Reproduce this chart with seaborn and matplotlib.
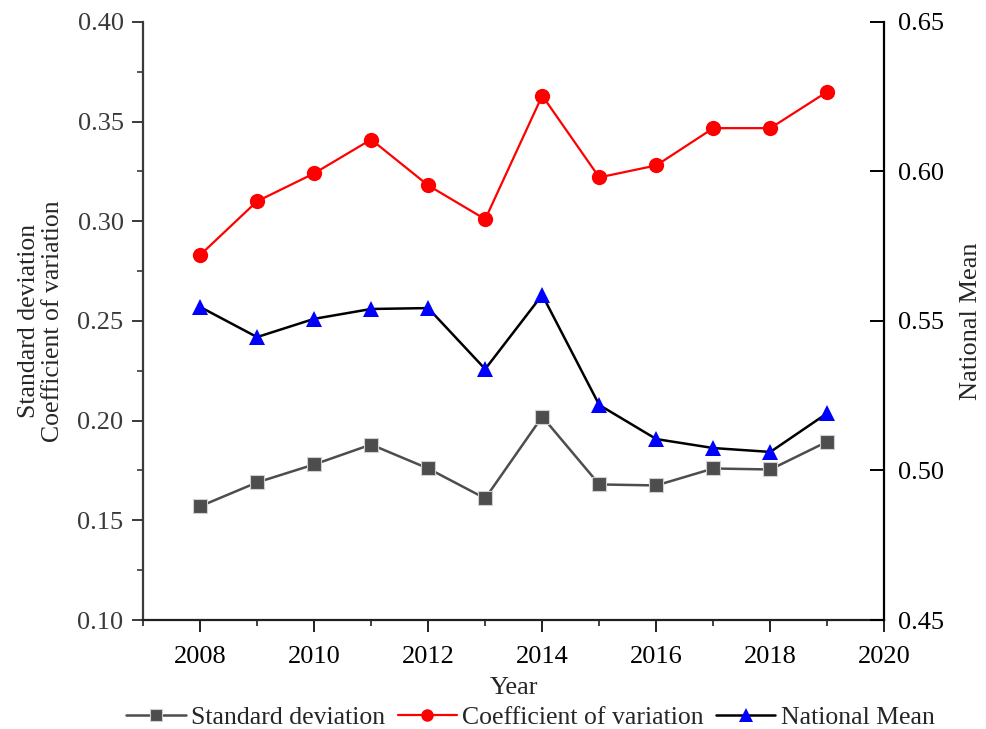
import matplotlib
matplotlib.use("Agg")
import matplotlib.pyplot as plt
from matplotlib.ticker import MultipleLocator, FormatStrFormatter
from matplotlib.lines import Line2D
import seaborn as sns
import pandas as pd

years = [2008, 2009, 2010, 2011, 2012, 2013, 2014, 2015, 2016, 2017, 2018, 2019]
std_dev = [0.157, 0.169, 0.178, 0.188, 0.176, 0.161, 0.202, 0.168, 0.1675, 0.176, 0.1755, 0.1895]
coef_var = [0.283, 0.310, 0.324, 0.341, 0.318, 0.301, 0.363, 0.322, 0.328, 0.3467, 0.3467, 0.365]
national_mean = [0.5547, 0.5446, 0.5507, 0.5540, 0.5543, 0.5339, 0.5587, 0.5219, 0.5105, 0.5075, 0.5062, 0.5192]

df = pd.DataFrame({"Year": years, "SD": std_dev, "CV": coef_var, "NM": national_mean})

sns.set_theme(style="ticks")
plt.rcParams["font.family"] = ["Liberation Serif", "DejaVu Serif"]
FS = 19
plt.rcParams["font.size"] = FS

fig = plt.figure(figsize=(9.86, 7.29), dpi=100)
ax = fig.add_axes([0.145, 0.1495, 0.752, 0.8205])
ax2 = ax.twinx()

gray = "#4d4d4d"
sns.lineplot(data=df, x="Year", y="SD", ax=ax, color=gray, lw=1.8,
             marker="s", markersize=10, markerfacecolor=gray,
             markeredgecolor="#d0d0d0", markeredgewidth=0.8)
sns.lineplot(data=df, x="Year", y="CV", ax=ax, color="red", lw=1.6,
             marker="o", markersize=11, markerfacecolor="red",
             markeredgecolor="red", markeredgewidth=0)
sns.lineplot(data=df, x="Year", y="NM", ax=ax2, color="black", lw=1.8,
             marker="^", markersize=12, markerfacecolor="blue",
             markeredgecolor="blue", markeredgewidth=0)

ax.set_xlim(2007, 2020)
ax.set_ylim(0.10, 0.40)
ax2.set_ylim(0.45, 0.65)

ax.xaxis.set_major_locator(MultipleLocator(2))
ax.xaxis.set_minor_locator(MultipleLocator(1))
ax.yaxis.set_major_locator(MultipleLocator(0.05))
ax.yaxis.set_minor_locator(MultipleLocator(0.025))
ax2.yaxis.set_major_locator(MultipleLocator(0.05))
ax.yaxis.set_major_formatter(FormatStrFormatter("%.2f"))
ax2.yaxis.set_major_formatter(FormatStrFormatter("%.2f"))
ax.set_xticks(list(range(2008, 2021, 2)))

for a in (ax, ax2):
    a.spines["top"].set_visible(False)
    a.grid(False)

ax.spines["left"].set_color("#3a3a3a")
ax.spines["bottom"].set_color("#202020")
ax.spines["left"].set_linewidth(1.6)
ax.spines["bottom"].set_linewidth(1.6)
ax2.spines["right"].set_color("black")
ax2.spines["right"].set_linewidth(1.6)
ax2.spines["left"].set_visible(False)
ax2.spines["bottom"].set_visible(False)

ax.tick_params(axis="y", which="major", direction="out", length=8, width=1.4,
               color="#3a3a3a", labelcolor="#3a3a3a", labelsize=FS, pad=6)
ax.tick_params(axis="y", which="minor", direction="out", length=4.5, width=1.2, color="#3a3a3a")
ax.tick_params(axis="x", which="major", direction="out", length=8.5, width=1.4,
               color="#202020", labelcolor="black", labelsize=FS, pad=10)
ax.tick_params(axis="x", which="minor", direction="out", length=4.5, width=1.2, color="#202020")
ax2.tick_params(axis="y", which="major", direction="in", length=10, width=1.4,
                color="black", labelcolor="black", labelsize=FS, pad=10)

ax.set_xlabel("Year", fontsize=FS, labelpad=7)
ax.set_ylabel("Standard deviation\nCoefficient of variation", fontsize=18.5,
              linespacing=1.15)
ax.yaxis.set_label_coords(-0.106, 0.5)
ax2.set_ylabel("National Mean", fontsize=FS, labelpad=11)

handles = [
    Line2D([], [], color=gray, lw=1.8, marker="s", markersize=8,
           markerfacecolor=gray, markeredgecolor="#d0d0d0", markeredgewidth=0.8),
    Line2D([], [], color="red", lw=1.6, marker="o", markersize=9,
           markerfacecolor="red", markeredgewidth=0),
    Line2D([], [], color="black", lw=1.8, marker="^", markersize=10,
           markerfacecolor="blue", markeredgewidth=0),
]
labels = ["Standard deviation", "Coefficient of variation", "National Mean"]
fig.legend(handles, labels, loc="center", bbox_to_anchor=(0.538, 0.016),
           ncol=3, frameon=False, fontsize=18.5, handlelength=2.3,
           handletextpad=0.2, columnspacing=0.5, borderpad=0)

fig.savefig("out.png", dpi=100)
